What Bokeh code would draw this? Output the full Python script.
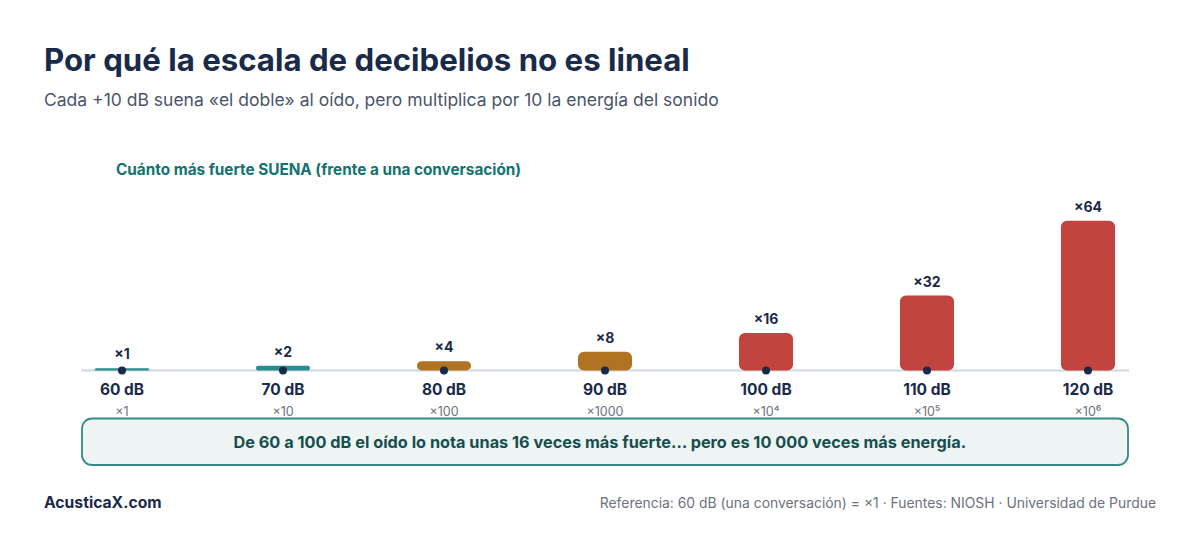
from bokeh.plotting import figure
from bokeh.core.properties import value
from bokeh.models import ColumnDataSource, Range1d, Label, BoxAnnotation
from bokeh.embed import file_html
from bokeh.resources import INLINE

db_labels = ["60 dB", "70 dB", "80 dB", "90 dB", "100 dB", "110 dB", "120 dB"]
loudness = [1, 2, 4, 8, 16, 32, 64]
loud_labels = ["×1", "×2", "×4", "×8", "×16", "×32", "×64"]
energy_labels = ["×1", "×10", "×100", "×1000", "×10⁴", "×10⁵", "×10⁶"]
bar_colors = ["#2A8C8C", "#2A8C8C", "#B07223", "#B07223", "#C1443F", "#C1443F", "#C1443F"]
positions = list(range(len(db_labels)))

FONT = "Inter"
NAVY = "#1A2B4A"
W, H = 1192, 534

src = ColumnDataSource(dict(
    x=positions,
    left=[i - 0.168 for i in positions],
    right=[i + 0.168 for i in positions],
    top=loudness,
    bottom=[0] * len(positions),
    color=bar_colors,
    db=db_labels,
    loud=loud_labels,
    energy=energy_labels,
    zero=[0] * len(positions),
))

p = figure(width=W, height=H, output_backend="svg", toolbar_location=None,
           x_range=Range1d(-0.7547, 6.6491), y_range=Range1d(-70.09, 158.12),
           min_border=0, min_border_left=0, min_border_right=0, min_border_top=0,
           min_border_bottom=0, outline_line_color=None, background_fill_color="white")
p.axis.visible = False
p.grid.visible = False

p.segment(x0=[-0.255], x1=[6.255], y0=[0], y1=[0], line_color="#D0D7E2", line_width=2)
p.quad(left="left", right="right", top="top", bottom="bottom", source=src,
       fill_color="color", line_color=None, border_radius=6)
p.scatter(x="x", y="zero", source=src, size=8, color=NAVY, line_color=None)

p.text(x="x", y="top", text="loud", source=src, text_align="center", text_baseline="middle",
       y_offset=-14.5, text_font=value(FONT), text_font_style="bold", text_font_size="14px", text_color=NAVY)
p.text(x="x", y="zero", text="db", source=src, text_align="center", text_baseline="middle",
       y_offset=19, text_font=value(FONT), text_font_style="bold", text_font_size="15.5px", text_color=NAVY)
p.text(x="x", y="zero", text="energy", source=src, text_align="center", text_baseline="middle",
       y_offset=41, text_font=value(FONT), text_font_size="12.5px", text_color="#6B7280")

p.add_layout(BoxAnnotation(left=81.5, right=1127.5, left_units="screen", right_units="screen",
                           top=H - 418, bottom=H - 464.5, top_units="screen", bottom_units="screen",
                           fill_color="#EDF4F3", fill_alpha=1, line_color="#35898A", line_width=1.8,
                           line_alpha=1, border_radius=10))


def lab(x, y, text, size, color, bold=False, align="left"):
    p.add_layout(Label(x=x, y=H - y, x_units="screen", y_units="screen", text=text,
                       text_font=FONT, text_font_size=size, text_color=color,
                       text_font_style="bold" if bold else "normal", text_align=align,
                       text_baseline="middle"))


lab(43.5, 59, "Por qué la escala de decibelios no es lineal", "31.2px", NAVY, True)
lab(43.5, 99, "Cada +10 dB suena «el doble» al oído, pero multiplica por 10 la energía del sonido", "17.5px", "#4A5568")
lab(115.5, 169, "Cuánto más fuerte SUENA (frente a una conversación)", "15.3px", "#12736F", True)
lab(599.5, 441, "De 60 a 100 dB el oído lo nota unas 16 veces más fuerte… pero es 10 000 veces más energía.", "16.3px", "#164E4E", True, "center")
lab(43.5, 502, "AcusticaX.com", "15.7px", NAVY, True)
lab(1155.5, 502, "Referencia: 60 dB (una conversación) = ×1 · Fuentes: NIOSH · Universidad de Purdue", "13.9px", "#6B7280", False, "right")

open("out.html", "w").write(file_html(p, INLINE))
